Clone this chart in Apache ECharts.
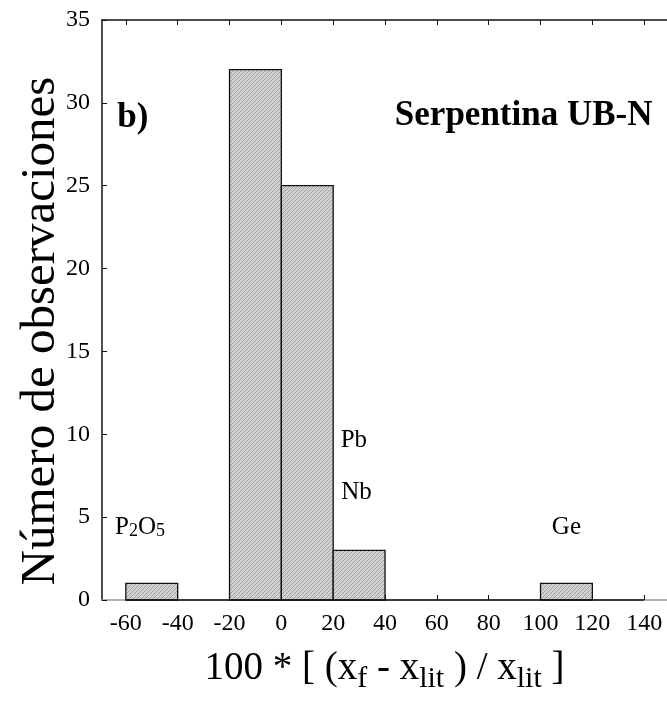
<!DOCTYPE html>
<html>
<head>
<meta charset="utf-8">
<script src="https://cdn.jsdelivr.net/npm/echarts@6/dist/echarts.min.js"></script>
<style>
html,body{margin:0;padding:0;background:#fff;}
#chart{width:667px;height:702px;}
</style>
</head>
<body>
<div id="chart"></div>
<script>
// ---- data ----
const binStarts = [-60, -40, -20, 0, 20, 40, 60, 80, 100, 120];
const counts    = [1, 0, 32, 25, 3, 0, 0, 0, 1, 0];
const binWidth  = 20;
const xTicks    = [-60, -40, -20, 0, 20, 40, 60, 80, 100, 120, 140];
const yTicks    = [0, 5, 10, 15, 20, 25, 30, 35];
const annoText  = ['P{s|2}O{s|5}', 'Pb', 'Nb', 'Ge'];
const annoX     = [-54.5, 28, 29, 110];
const annoY     = [4.4, 9.6, 6.5, 4.4];
const panelText = ['b)', 'Serpentina UB-N'];
const panelX    = [-57.3, 93.5];
const panelY    = [29.1, 29.2];
const yTitle    = 'Número de observaciones';
const xTitle    = '100 * [ (x{s|f} - x{s|lit} ) / x{s|lit} ]';

const FONT = 'Liberation Serif';

function makeHatch() {
  const c = document.createElement('canvas');
  c.width = 4; c.height = 4;
  const g = c.getContext('2d');
  g.fillStyle = '#d0d0d0';
  g.fillRect(0, 0, 4, 4);
  g.fillStyle = '#a4a4a4';
  for (let i = 0; i < 4; i++) g.fillRect(i, 3 - i, 1, 1);
  return c;
}
const hatch = makeHatch();

const histData = binStarts.map((b, i) => [b, counts[i]]);
const annoData = annoText.map((t, i) => ({ value: [annoX[i], annoY[i]], txt: t }));
const panelData = panelText.map((t, i) => ({ value: [panelX[i], panelY[i]], txt: t }));

const xMin = -69.2, xMax = 148.8;

const chart = echarts.init(document.getElementById('chart'), null, { renderer: 'canvas' });
chart.setOption({
  backgroundColor: '#fff',
  animation: false,
  grid: { left: 102, right: 0, top: 20, bottom: 102, containLabel: false },
  graphic: [{
    type: 'text', x: 41, y: 331, rotation: Math.PI / 2, silent: true,
    style: { text: yTitle, fontFamily: FONT, fontSize: 49, fill: '#000', align: 'center', verticalAlign: 'middle' }
  }],
  xAxis: [{
    type: 'value', min: xMin, max: xMax, position: 'bottom',
    axisLine: { show: true, onZero: false, lineStyle: { color: '#999', width: 1.5 } },
    axisTick: { show: true, inside: true, length: 5, customValues: xTicks, lineStyle: { color: '#111' } },
    axisLabel: { customValues: xTicks, fontFamily: FONT, fontSize: 24, color: '#000', margin: 12 },
    splitLine: { show: false },
    name: xTitle,
    nameLocation: 'middle', nameGap: 44,
    nameTextStyle: {
      fontFamily: FONT, fontSize: 39, color: '#000',
      rich: { s: { fontFamily: FONT, fontSize: 30, color: '#000', verticalAlign: 'bottom', padding: [20, 0, 0, 0] } }
    }
  }, {
    type: 'value', min: xMin, max: xMax, position: 'top',
    axisLine: { show: true, onZero: false, lineStyle: { color: '#111', width: 1.5 } },
    axisTick: { show: true, inside: true, length: 5, customValues: xTicks, lineStyle: { color: '#111' } },
    axisLabel: { show: false },
    splitLine: { show: false }
  }],
  yAxis: {
    type: 'value', min: 0, max: 35, interval: 5,
    axisLine: { show: true, onZero: false, lineStyle: { color: '#111', width: 1.5 } },
    axisTick: { show: true, inside: true, length: 5, lineStyle: { color: '#111' } },
    axisLabel: { fontFamily: FONT, fontSize: 24, color: '#000', margin: 12 },
    splitLine: { show: false }
  },
  series: [{
    type: 'custom',
    data: histData,
    renderItem: function (params, api) {
      const x0 = api.value(0), y = api.value(1);
      if (!y) return null;
      const p0 = api.coord([x0, y]);
      const p1 = api.coord([x0 + binWidth, 0]);
      return {
        type: 'rect',
        shape: { x: p0[0], y: p0[1], width: p1[0] - p0[0], height: p1[1] - p0[1] },
        style: { fill: { image: hatch, repeat: 'repeat' }, stroke: '#111', lineWidth: 1.3 }
      };
    },
    markLine: {
      silent: true, symbol: 'none', label: { show: false },
      lineStyle: { color: '#111', width: 1.5, type: 'solid' },
      data: [[{ coord: [xTicks[0], 0] }, { coord: [xTicks[xTicks.length - 1], 0] }]]
    },
    z: 3
  }, {
    type: 'scatter', symbolSize: 0, data: annoData, silent: true,
    itemStyle: { opacity: 1 },
    label: {
      show: true, position: 'inside', formatter: p => p.data.txt,
      fontFamily: FONT, fontSize: 25, color: '#000', opacity: 1,
      rich: { s: { fontFamily: FONT, fontSize: 18, color: '#000', verticalAlign: 'bottom', padding: [8, 0, 0, 0] } }
    }
  }, {
    type: 'scatter', symbolSize: 0, data: panelData, silent: true,
    itemStyle: { opacity: 1 },
    label: {
      show: true, position: 'inside', formatter: p => p.data.txt,
      fontFamily: FONT, fontSize: 35, fontWeight: 'bold', color: '#000', opacity: 1
    }
  }]
});
</script>
</body>
</html>
